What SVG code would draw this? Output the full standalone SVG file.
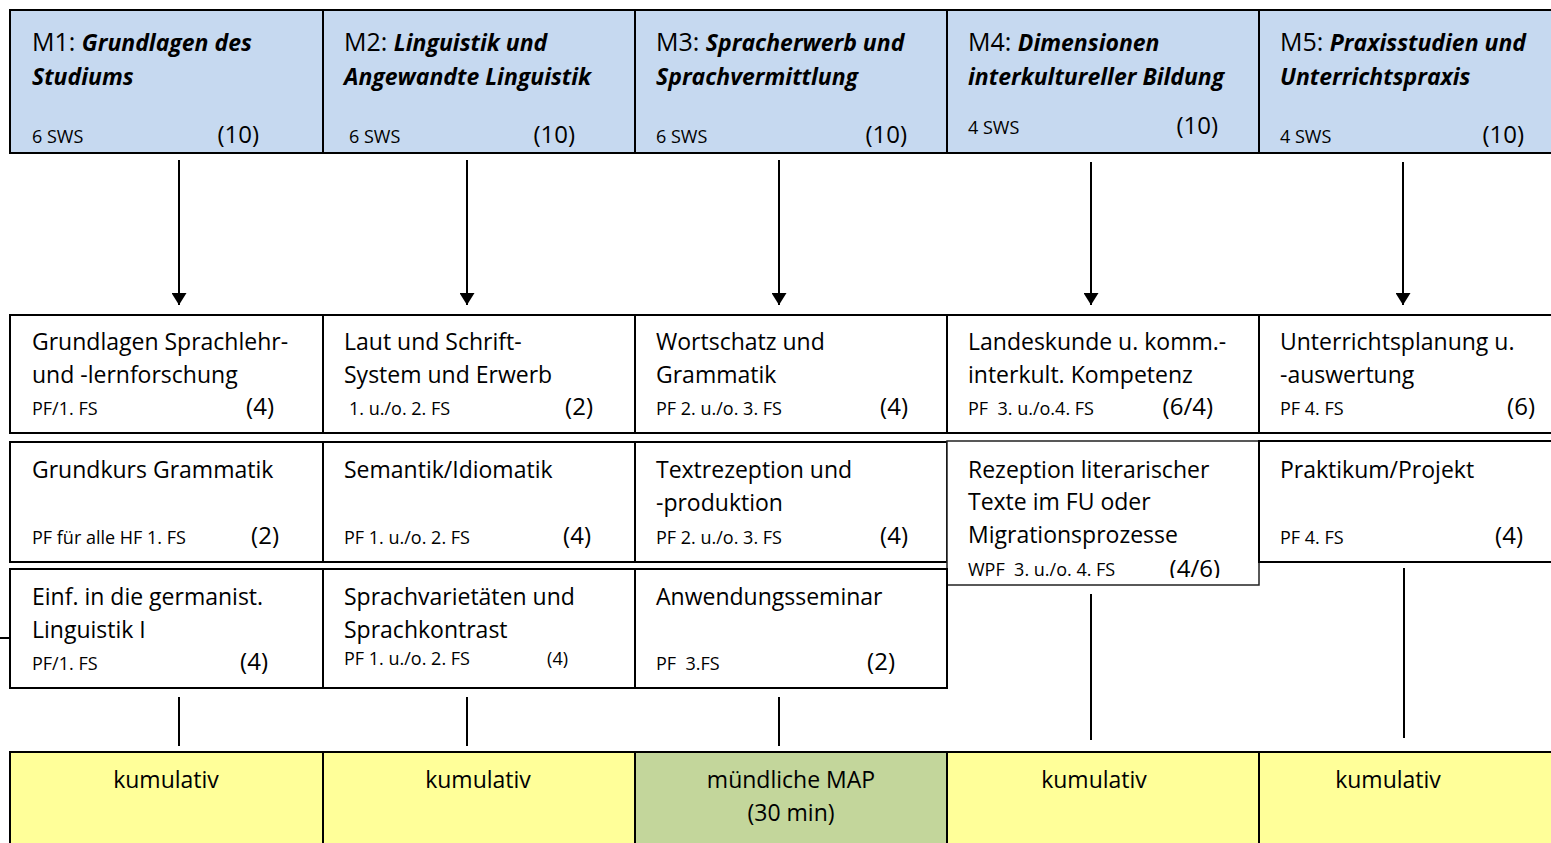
<svg xmlns="http://www.w3.org/2000/svg" width="1551" height="843" viewBox="0 0 1551 843">
<style>
text{font-family:"Open Sans","Liberation Sans",sans-serif;fill:#000;white-space:pre}
.hd{fill:#c6d9f0;stroke:#000;stroke-width:2}
.bx{fill:#fff;stroke:#000;stroke-width:2}
.yl{fill:#ffff99;stroke:#000;stroke-width:2}
.gr{fill:#c3d69b;stroke:#000;stroke-width:2}
.m{font-size:25px}
.bi{font-size:23px;font-weight:bold;font-style:italic}
.t{font-size:23px}
.s{font-size:18px}
.n{font-size:24px;text-anchor:end}
.c{font-size:23px;text-anchor:middle}
.ln{stroke:#000;stroke-width:2;fill:none}
</style>
<defs>
<marker id="ah" viewBox="0 0 12 15" refX="12" refY="7.5" markerWidth="12" markerHeight="15" markerUnits="userSpaceOnUse" orient="auto">
<path d="M0,0 L12,7.5 L0,15 Z" fill="#000"/>
</marker>
<clipPath id="clipM4"><rect x="947" y="441" width="312" height="137"/></clipPath>
</defs>

<g id="M1-header">
<rect class="hd" x="10" y="10" width="313" height="143"/>
<text x="32" y="51"><tspan class="m">M1: </tspan><tspan class="bi">Grundlagen des</tspan></text>
<text x="32" y="85" class="bi">Studiums</text>
<text x="32" y="143" class="s">6 SWS</text>
<text x="259" y="143" class="n">(10)</text>
</g>
<g id="M2-header">
<rect class="hd" x="323" y="10" width="312" height="143"/>
<text x="344" y="51"><tspan class="m">M2: </tspan><tspan class="bi">Linguistik und</tspan></text>
<text x="344" y="85" class="bi">Angewandte Linguistik</text>
<text x="349" y="143" class="s">6 SWS</text>
<text x="575" y="143" class="n">(10)</text>
</g>
<g id="M3-header">
<rect class="hd" x="635" y="10" width="312" height="143"/>
<text x="656" y="51"><tspan class="m">M3: </tspan><tspan class="bi">Spracherwerb und</tspan></text>
<text x="656" y="85" class="bi">Sprachvermittlung</text>
<text x="656" y="143" class="s">6 SWS</text>
<text x="907" y="143" class="n">(10)</text>
</g>
<g id="M4-header">
<rect class="hd" x="947" y="10" width="312" height="143"/>
<text x="968" y="51"><tspan class="m">M4: </tspan><tspan class="bi">Dimensionen</tspan></text>
<text x="968" y="85" class="bi">interkultureller Bildung</text>
<text x="968" y="134" class="s">4 SWS</text>
<text x="1218" y="134" class="n">(10)</text>
</g>
<g id="M5-header">
<rect class="hd" x="1259" y="10" width="300" height="143"/>
<text x="1280" y="51"><tspan class="m">M5: </tspan><tspan class="bi">Praxisstudien und</tspan></text>
<text x="1280" y="85" class="bi">Unterrichtspraxis</text>
<text x="1280" y="143" class="s">4 SWS</text>
<text x="1524" y="143" class="n">(10)</text>
</g>

<g id="connectors">
<line class="ln" x1="179" y1="160" x2="179" y2="305" marker-end="url(#ah)"/>
<line class="ln" x1="467" y1="160" x2="467" y2="305" marker-end="url(#ah)"/>
<line class="ln" x1="779" y1="160" x2="779" y2="305" marker-end="url(#ah)"/>
<line class="ln" x1="1091" y1="162" x2="1091" y2="305" marker-end="url(#ah)"/>
<line class="ln" x1="1403" y1="162" x2="1403" y2="305" marker-end="url(#ah)"/>
<line class="ln" x1="179" y1="697" x2="179" y2="746"/>
<line class="ln" x1="467" y1="697" x2="467" y2="746"/>
<line class="ln" x1="779" y1="697" x2="779" y2="746"/>
<line class="ln" x1="1091" y1="594" x2="1091" y2="740"/>
<line class="ln" x1="1404" y1="568" x2="1404" y2="738"/>
<line class="ln" x1="0" y1="638" x2="10" y2="638"/>
</g>

<g id="M1-c1">
<rect class="bx" x="10" y="315" width="313" height="118"/>
<text x="32" y="350" class="t">Grundlagen Sprachlehr-</text>
<text x="32" y="383" class="t">und -lernforschung</text>
<text x="32" y="415" class="s">PF/1. FS</text>
<text x="274" y="415" class="n">(4)</text>
</g>
<g id="M2-c1">
<rect class="bx" x="323" y="315" width="312" height="118"/>
<text x="344" y="350" class="t">Laut und Schrift-</text>
<text x="344" y="383" class="t">System und Erwerb</text>
<text x="349" y="415" class="s">1. u./o. 2. FS</text>
<text x="593" y="415" class="n">(2)</text>
</g>
<g id="M3-c1">
<rect class="bx" x="635" y="315" width="312" height="118"/>
<text x="656" y="350" class="t">Wortschatz und</text>
<text x="656" y="383" class="t">Grammatik</text>
<text x="656" y="415" class="s">PF 2. u./o. 3. FS</text>
<text x="908" y="415" class="n">(4)</text>
</g>
<g id="M4-c1">
<rect class="bx" x="947" y="315" width="312" height="118"/>
<text x="968" y="350" class="t">Landeskunde u. komm.-</text>
<text x="968" y="383" class="t">interkult. Kompetenz</text>
<text x="968" y="415" class="s">PF  3. u./o.4. FS</text>
<text x="1213" y="415" class="n">(6/4)</text>
</g>
<g id="M5-c1">
<rect class="bx" x="1259" y="315" width="300" height="118"/>
<text x="1280" y="350" class="t">Unterrichtsplanung u.</text>
<text x="1280" y="383" class="t">-auswertung</text>
<text x="1280" y="415" class="s">PF 4. FS</text>
<text x="1535" y="415" class="n">(6)</text>
</g>

<g id="M1-c2">
<rect class="bx" x="10" y="442" width="313" height="120"/>
<text x="32" y="478" class="t">Grundkurs Grammatik</text>
<text x="32" y="544" class="s">PF für alle HF 1. FS</text>
<text x="279" y="544" class="n">(2)</text>
</g>
<g id="M2-c2">
<rect class="bx" x="323" y="442" width="312" height="120"/>
<text x="344" y="478" class="t">Semantik/Idiomatik</text>
<text x="344" y="544" class="s">PF 1. u./o. 2. FS</text>
<text x="591" y="544" class="n">(4)</text>
</g>
<g id="M3-c2">
<rect class="bx" x="635" y="442" width="312" height="120"/>
<text x="656" y="478" class="t">Textrezeption und</text>
<text x="656" y="511" class="t">-produktion</text>
<text x="656" y="544" class="s">PF 2. u./o. 3. FS</text>
<text x="908" y="544" class="n">(4)</text>
</g>
<g id="M4-c2">
<rect x="947" y="441" width="312" height="144" fill="#fff" stroke="#222" stroke-width="1.5"/>
<g clip-path="url(#clipM4)">
<text x="968" y="478" class="t">Rezeption literarischer</text>
<text x="968" y="510" class="t">Texte im FU oder</text>
<text x="968" y="543" class="t">Migrationsprozesse</text>
<text x="968" y="576" class="s">WPF  3. u./o. 4. FS</text>
<text x="1220" y="577" class="n">(4/6)</text>
</g>
</g>
<g id="M5-c2">
<rect class="bx" x="1259" y="441" width="300" height="121"/>
<text x="1280" y="478" class="t">Praktikum/Projekt</text>
<text x="1280" y="544" class="s">PF 4. FS</text>
<text x="1523" y="544" class="n">(4)</text>
</g>

<g id="M1-c3">
<rect class="bx" x="10" y="569" width="313" height="119"/>
<text x="32" y="605" class="t">Einf. in die germanist.</text>
<text x="32" y="638" class="t">Linguistik I</text>
<text x="32" y="670" class="s">PF/1. FS</text>
<text x="268" y="670" class="n">(4)</text>
</g>
<g id="M2-c3">
<rect class="bx" x="323" y="569" width="312" height="119"/>
<text x="344" y="605" class="t">Sprachvarietäten und</text>
<text x="344" y="638" class="t">Sprachkontrast</text>
<text x="344" y="665" class="s">PF 1. u./o. 2. FS</text>
<text x="568" y="665" class="s" text-anchor="end">(4)</text>
</g>
<g id="M3-c3">
<rect class="bx" x="635" y="569" width="312" height="119"/>
<text x="656" y="605" class="t">Anwendungsseminar</text>
<text x="656" y="670" class="s">PF  3.FS</text>
<text x="895" y="670" class="n">(2)</text>
</g>

<g id="E1">
<rect class="yl" x="10" y="752" width="313" height="100"/>
<text x="166" y="788" class="c">kumulativ</text>
</g>
<g id="E2">
<rect class="yl" x="323" y="752" width="312" height="100"/>
<text x="478" y="788" class="c">kumulativ</text>
</g>
<g id="E3">
<rect class="gr" x="635" y="752" width="312" height="100"/>
<text x="791" y="788" class="c">mündliche MAP</text>
<text x="791" y="821" class="c">(30 min)</text>
</g>
<g id="E4">
<rect class="yl" x="947" y="752" width="312" height="100"/>
<text x="1094" y="788" class="c">kumulativ</text>
</g>
<g id="E5">
<rect class="yl" x="1259" y="752" width="300" height="100"/>
<text x="1388" y="788" class="c">kumulativ</text>
</g>
</svg>
